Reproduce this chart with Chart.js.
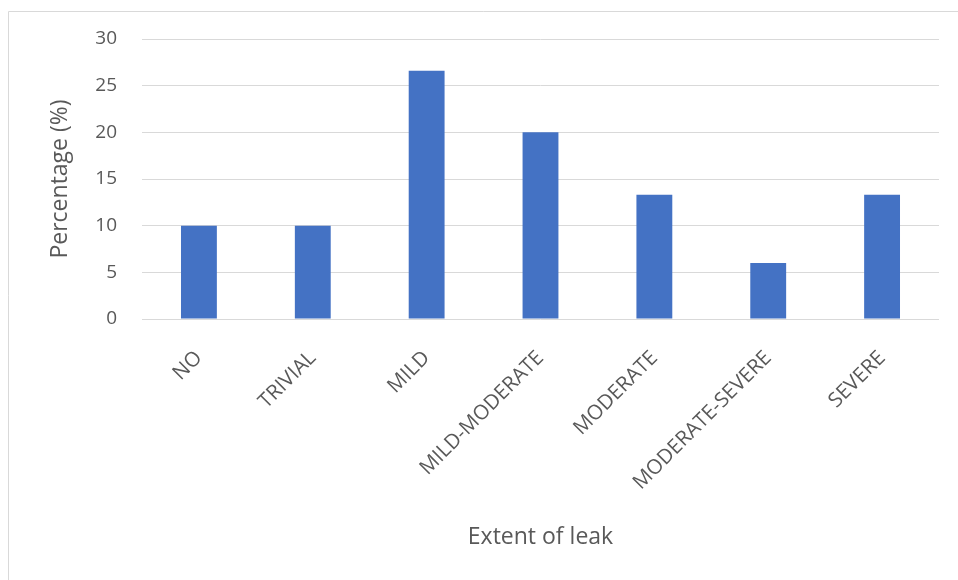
<!DOCTYPE html>
<html>
<head>
<meta charset="utf-8">
<title>Extent of leak</title>
<script src="https://cdn.jsdelivr.net/npm/chart.js@4/dist/chart.umd.min.js"></script>
<style>
  html, body { margin: 0; padding: 0; background: #ffffff; }
  #wrap { position: relative; width: 958px; height: 580px; }
  canvas { display: block; }
</style>
</head>
<body>
<div id="wrap"><canvas id="chart" width="958" height="580"></canvas></div>
<script>
// Leak severity categories and the share of cases in each (%)
const categories = ['NO', 'TRIVIAL', 'MILD', 'MILD-MODERATE', 'MODERATE', 'MODERATE-SEVERE', 'SEVERE'];
const percentages = [10, 10, 26.6, 20, 13.3, 6, 13.3];
const yTicks = [0, 5, 10, 15, 20, 25, 30];

const textColor = '#595959';
const gridColor = '#d9d9d9';
const fontFamily = '"Open Sans", "Liberation Sans", sans-serif';

// Light frame around the chart, as in the exported figure
const framePlugin = {
  id: 'frame',
  beforeDraw(chart) {
    const ctx = chart.ctx;
    ctx.save();
    ctx.strokeStyle = gridColor;
    ctx.lineWidth = 1;
    ctx.beginPath();
    ctx.moveTo(8.5, chart.height);
    ctx.lineTo(8.5, 11.5);
    ctx.lineTo(chart.width, 11.5);
    ctx.stroke();
    ctx.restore();
  }
};

new Chart(document.getElementById('chart'), {
  type: 'bar',
  data: {
    labels: categories,
    datasets: [{
      label: 'Percentage (%)',
      data: percentages,
      backgroundColor: '#4472c4',
      borderWidth: 0,
      barPercentage: 0.315,
      categoryPercentage: 1.0
    }]
  },
  options: {
    responsive: false,
    devicePixelRatio: 1,
    animation: false,
    layout: { padding: { left: 43, right: 19, top: 39, bottom: 25 } },
    plugins: {
      legend: { display: false },
      tooltip: { enabled: false }
    },
    scales: {
      x: {
        grid: { display: false },
        border: { display: false },
        ticks: {
          color: textColor,
          font: { family: fontFamily, size: 20.5 },
          minRotation: 45,
          maxRotation: 45,
          padding: 19
        },
        title: {
          display: true,
          text: 'Extent of leak',
          color: textColor,
          font: { family: fontFamily, size: 23 },
          padding: { top: 4, bottom: 4 }
        },
        afterFit(scale) { scale.height = 236; }
      },
      y: {
        min: 0,
        max: 30,
        afterBuildTicks(scale) { scale.ticks = yTicks.map(v => ({ value: v })); },
        grid: { color: gridColor, lineWidth: 1, drawTicks: false },
        border: { display: false },
        ticks: {
          color: textColor,
          font: { family: fontFamily, size: 19 },
          padding: 25
        },
        title: {
          display: true,
          text: 'Percentage (%)',
          color: textColor,
          font: { family: fontFamily, size: 23 },
          padding: { top: 4, bottom: 4 }
        },
        afterFit(scale) { scale.width = 99; }
      }
    }
  },
  plugins: [framePlugin]
});
</script>
</body>
</html>
